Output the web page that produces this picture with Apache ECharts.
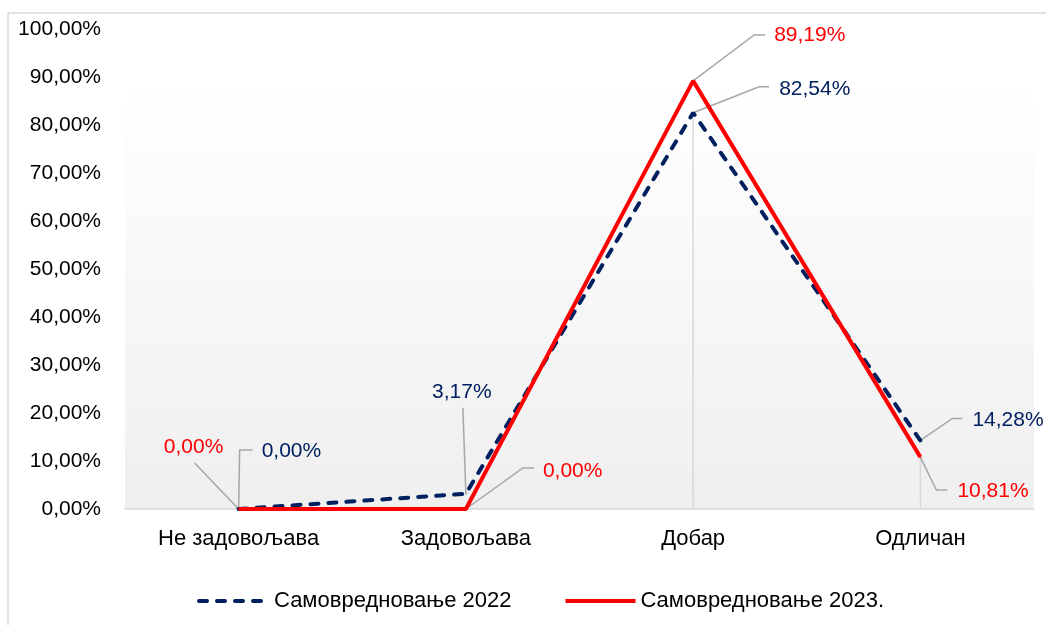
<!DOCTYPE html>
<html><head><meta charset="utf-8">
<script src="https://cdn.jsdelivr.net/npm/echarts@6/dist/echarts.min.js"></script>
<style>html,body{margin:0;padding:0;background:#fff}#c{width:1046px;height:625px}</style>
</head><body><div id="c"></div>
<script>
const categories = ['Не задовољава', 'Задовољава', 'Добар', 'Одличан'];
const seriesNames = ['Самовредновање 2022', 'Самовредновање 2023.'];
const values2022 = [0, 3.17, 82.54, 14.28];
const values2023 = [0, 0, 89.19, 10.81];
const yTicks = { min: 0, max: 100, interval: 10 };

// drop lines from the lower of the two points down to the axis
const dropLines = values2022.map((v, i) => Math.min(v, values2023[i]));

const fmt = v => Number(v).toFixed(2).replace('.', ',') + '%';
const FONT = 'Liberation Sans';

// label placement relative to the data point (styling only)
const layout2022 = [
  { lx: 23, ly: -58, align: 'left', line: [[1, -59], [14, -59]] },
  { lx: -4, ly: -102, align: 'center', line: [[-3, -86]] },
  { lx: 86, ly: -24, align: 'left', line: [[66, -26], [76, -26]] },
  { lx: 52, ly: -20, align: 'left', line: [[32, -22], [42, -22]] }
];
const layout2023 = [
  { lx: -45, ly: -62, align: 'center', line: [[-44, -46]] },
  { lx: 77, ly: -38, align: 'left', line: [[57, -41], [68, -41]] },
  { lx: 81, ly: -46, align: 'left', line: [[61, -46], [72, -46]] },
  { lx: 37, ly: 34, align: 'left', line: [[16, 33], [27, 33]] }
];
function makeLayout(cfg) {
  return function (p) {
    const c = cfg[p.dataIndex];
    const px = p.rect.x + p.rect.width / 2;
    const py = p.rect.y + p.rect.height / 2;
    return { x: px + c.lx, y: py + c.ly, align: c.align, verticalAlign: 'middle' };
  };
}

const borderRect = {
  id: 'border', type: 'rect', silent: true, z: -10,
  shape: { x: 8, y: 13, width: 1200, height: 800 },
  style: { fill: 'none', stroke: '#d9d9d9', lineWidth: 1.5 }
};

const chart = echarts.init(document.getElementById('c'));
chart.setOption({
  animation: false,
  textStyle: { fontFamily: FONT },
  graphic: [borderRect],
  grid: {
    left: 125, right: 12, top: 29, bottom: 116,
    show: true, borderWidth: 0,
    backgroundColor: new echarts.graphic.LinearGradient(0, 0, 0, 1, [
      { offset: 0, color: '#ffffff' },
      { offset: 0.12, color: '#ffffff' },
      { offset: 1, color: '#efefef' }
    ])
  },
  legend: {
    data: seriesNames,
    left: 192, top: 585,
    itemWidth: 70, itemHeight: 14, itemGap: 52,
    itemStyle: { opacity: 0 },
    lineStyle: { width: 4 },
    textStyle: { fontSize: 22, color: '#000', fontFamily: FONT }
  },
  xAxis: {
    type: 'category', data: categories, boundaryGap: true,
    axisLine: { lineStyle: { color: '#d9d9d9', width: 1.5 } },
    axisTick: { show: false },
    axisLabel: { fontSize: 22, color: '#000', margin: 19 },
    splitLine: { show: false }
  },
  yAxis: {
    type: 'value', min: yTicks.min, max: yTicks.max, interval: yTicks.interval,
    axisLine: { show: false }, axisTick: { show: false },
    splitLine: { show: false },
    axisLabel: { fontSize: 21, color: '#000', margin: 24, formatter: fmt }
  },
  series: [
    {
      name: 'drop', type: 'bar', data: dropLines, barWidth: 1.5, z: 1,
      itemStyle: { color: '#d9d9d9' }, silent: true
    },
    {
      name: seriesNames[0], type: 'line', data: values2022, z: 3,
      symbol: 'circle', symbolSize: 1, itemStyle: { color: '#002060' },
      lineStyle: { color: '#002060', width: 4, type: [8, 10], cap: 'round' },
      label: { show: true, formatter: p => fmt(p.value), color: '#002060', fontSize: 21, fontFamily: FONT },
      labelLayout: makeLayout(layout2022)
    },
    {
      name: seriesNames[1], type: 'line', data: values2023, z: 4,
      symbol: 'circle', symbolSize: 1, itemStyle: { color: '#ff0000' },
      lineStyle: { color: '#ff0000', width: 4 },
      label: { show: true, formatter: p => fmt(p.value), color: '#ff0000', fontSize: 21, fontFamily: FONT },
      labelLayout: makeLayout(layout2023)
    }
  ]
});

// leader lines from each point (located through the chart's own scales) to its label
const leaders = [];
[[values2022, layout2022], [values2023, layout2023]].forEach(([vals, cfg], s) => {
  vals.forEach((v, i) => {
    const pt = chart.convertToPixel({ xAxisIndex: 0, yAxisIndex: 0 }, [categories[i], v]);
    const pts = [pt].concat(cfg[i].line.map(q => [pt[0] + q[0], pt[1] + q[1]]));
    leaders.push({
      id: 'leader' + s + '_' + i, type: 'polyline', silent: true, z: 2,
      shape: { points: pts },
      style: { fill: 'none', stroke: '#a6a6a6', lineWidth: 1.5 }
    });
  });
});
chart.setOption({ graphic: [borderRect].concat(leaders) });
</script></body></html>
